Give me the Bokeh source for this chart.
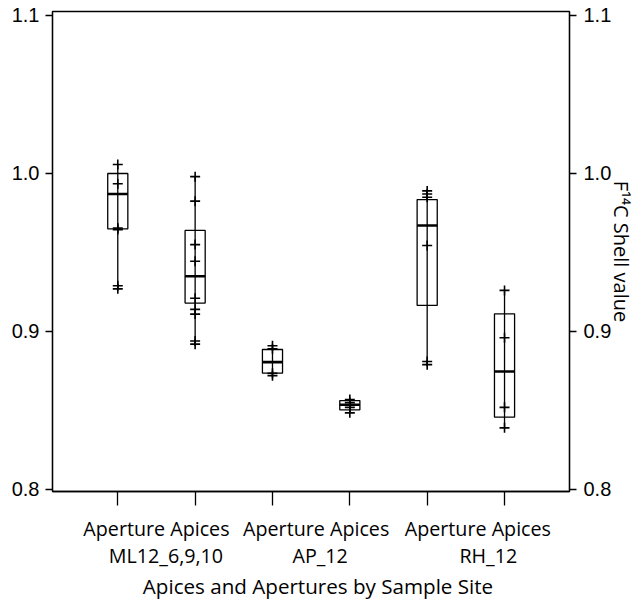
from bokeh.plotting import figure
from bokeh.models import Range1d, LinearAxis, FixedTicker, PrintfTickFormatter
from bokeh.embed import file_html
from bokeh.resources import INLINE

# ---- data ----
positions = [1, 2, 3, 4, 5, 6]
type_names = ["Aperture", "Apices"]
group_names = ["ML12_6,9,10", "AP_12", "RH_12"]

whisker_low = [0.927, 0.892, 0.872, 0.8485, 0.879, 0.839]
q1 = [0.965, 0.918, 0.8736, 0.8504, 0.9165, 0.8458]
median = [0.987, 0.935, 0.8806, 0.8536, 0.9671, 0.8747]
q3 = [1.000, 0.964, 0.8886, 0.8563, 0.9835, 0.9112]
whisker_high = [1.0057, 0.998, 0.891, 0.857, 0.989, 0.926]

pts_aperture_ml = [1.0057, 0.9935, 0.9655, 0.9645, 0.929, 0.927]
pts_apices_ml = [0.998, 0.9825, 0.955, 0.9445, 0.921, 0.914, 0.911, 0.894, 0.892]
pts_aperture_ap = [0.891, 0.889, 0.8735, 0.872]
pts_apices_ap = [0.857, 0.855, 0.852, 0.8485]
pts_aperture_rh = [0.989, 0.987, 0.985, 0.9544, 0.881, 0.879]
pts_apices_rh = [0.926, 0.896, 0.852, 0.839]
points = [pts_aperture_ml, pts_apices_ml, pts_aperture_ap,
          pts_apices_ap, pts_aperture_rh, pts_apices_rh]

y_ticks = [0.8, 0.9, 1.0, 1.1]
x_title = "Apices and Apertures by Sample Site"
y_title = "F\u00b9\u2074C Shell value"

# ---- layout constants ----
X0, X1 = 0.156, 6.84
Y0, Y1 = 0.79873, 1.10253
W, H = 641, 609
FL, FT, FR, FB = 52, 11, 72, 118
px_per_unit = (W - FL - FR) / (X1 - X0)

p = figure(width=W, height=H,
           x_range=Range1d(X0, X1), y_range=Range1d(Y0, Y1),
           output_backend="svg", toolbar_location=None,
           min_border_left=FL, min_border_top=FT, min_border_right=FR,
           min_border_bottom=FB)
p.xgrid.visible = False
p.ygrid.visible = False
p.outline_line_color = "black"
p.outline_line_width = 1.3
p.background_fill_color = "white"
p.border_fill_color = "white"

box_w = 0.26
p.segment(x0=positions, y0=whisker_low, x1=positions, y1=whisker_high,
          line_color="black", line_width=1.3)
p.vbar(x=positions, width=box_w, bottom=q1, top=q3,
       fill_color=None, line_color="black", line_width=1.3)
p.segment(x0=[x - box_w / 2 for x in positions], y0=median,
          x1=[x + box_w / 2 for x in positions], y1=median,
          line_color="black", line_width=2.6)

px, py = [], []
for x, vals in zip(positions, points):
    px += [x] * len(vals)
    py += vals
p.scatter(px, py, marker="cross", size=10, line_color="black", line_width=1.6)

tick_font = "Liberation Sans"
label_font = "Open Sans"

# x axis: plain ticks, no labels
xa = p.xaxis[0]
xa.ticker = FixedTicker(ticks=positions)
xa.major_label_overrides = {x: "" for x in positions}
xa.major_label_text_font_size = "0px"
xa.major_label_standoff = 0
xa.major_tick_in = 0
xa.major_tick_out = 14
xa.major_tick_line_width = 1.3
xa.minor_tick_line_color = None
xa.axis_line_width = 1.3

# label rows below (group label positions with small pixel nudges)
nudge1 = [0, 5, 12]
nudge2 = [9.5, 9, 22.5]
row1_ticks = [positions[2 * g] + 0.5 + nudge1[g] / px_per_unit for g in range(3)]
row2_ticks = [positions[2 * g] + 0.5 + nudge2[g] / px_per_unit for g in range(3)]
row3_ticks = [(X0 + X1) / 2 + 7 / px_per_unit]
row1 = LinearAxis(ticker=FixedTicker(ticks=row1_ticks),
                  major_label_overrides={t: " ".join(type_names) for t in row1_ticks})
row2 = LinearAxis(ticker=FixedTicker(ticks=row2_ticks),
                  major_label_overrides={t: n for t, n in zip(row2_ticks, group_names)})
row3 = LinearAxis(ticker=FixedTicker(ticks=row3_ticks),
                  major_label_overrides={row3_ticks[0]: x_title})
for ax, sto, fs in [(row1, 9, "19.7px"), (row2, -3, "19.7px"), (row3, 0, "20.6px")]:
    ax.axis_line_color = None
    ax.major_tick_line_color = None
    ax.minor_tick_line_color = None
    ax.major_tick_in = 0
    ax.major_tick_out = 0
    ax.major_label_standoff = sto
    ax.major_label_text_font = label_font
    ax.major_label_text_font_size = fs
    ax.major_label_text_color = "black"
    p.add_layout(ax, "below")

# y axes
ya = p.yaxis[0]
ra = LinearAxis(axis_label=y_title)
p.add_layout(ra, "right")
for ax in [ya, ra]:
    ax.ticker = FixedTicker(ticks=y_ticks)
    ax.formatter = PrintfTickFormatter(format="%.1f")
    ax.major_tick_in = 0
    ax.major_tick_out = 7
    ax.major_tick_line_width = 1.3
    ax.minor_tick_line_color = None
    ax.axis_line_width = 1.3
    ax.major_label_text_font = tick_font
    ax.major_label_text_font_size = "20px"
    ax.major_label_text_color = "black"
    ax.major_label_standoff = 6
ra.major_label_standoff = 7
ra.axis_label_text_font = label_font
ra.axis_label_text_font_size = "20px"
ra.axis_label_text_font_style = "normal"
ra.axis_label_text_color = "black"
ra.axis_label_standoff = -6

open("out.html", "w").write(file_html(p, INLINE))
